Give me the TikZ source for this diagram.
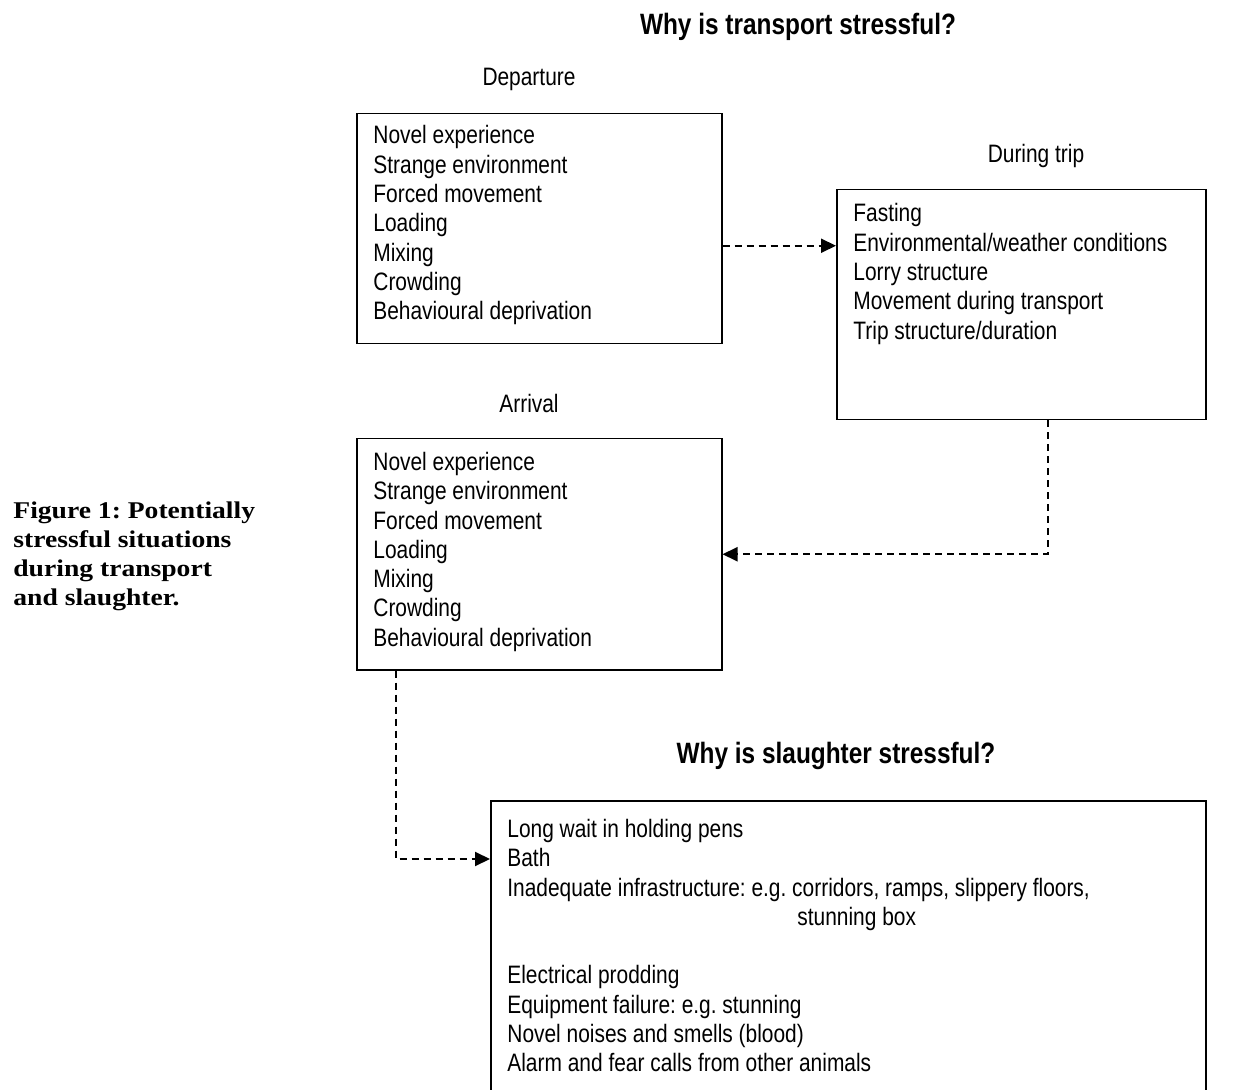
\documentclass[tikz,border=0pt]{standalone}
\usepackage{fontspec}
\setmainfont[FakeStretch=0.83]{Liberation Sans}
\newfontfamily\capfont[FakeStretch=1.15]{Liberation Serif}
\usetikzlibrary{arrows.meta}
\frenchspacing

\tikzset{
  box/.style={draw, line width=0.75pt, rectangle, inner sep=0pt, anchor=north west},
  items/.style={inner sep=0pt, anchor=north west, align=left,
    font=\fontsize{12.6}{14.65}\selectfont},
  head/.style={inner sep=0pt, anchor=base, font=\fontsize{14.7}{17}\selectfont\bfseries},
  stage/.style={inner sep=0pt, anchor=base, font=\fontsize{12.6}{14.65}\selectfont},
  flow/.style={line width=1pt, dash pattern=on 3.5pt off 2.5pt,
    -{Triangle[length=7.5pt,width=7pt]}}
}

\begin{document}
\begin{tikzpicture}[x=0.5pt, y=-0.5pt]
  \useasboundingbox (0,0) rectangle (1242,1090);

  % titles
  \node[head] (ttrans) at (798,35) {Why is transport stressful?};
  \node[head] (tslau) at (836,763) {Why is slaughter stressful?};

  % caption
  \node[inner sep=0pt, anchor=north west, align=left,
    font=\capfont\bfseries\fontsize{12}{14.5}\selectfont] (cap) at (13,497.7)
    {\strut Figure 1: Potentially\\stressful situations\\during transport\\and slaughter.};

  % departure
  \node[stage] (ldep) at (529,86) {Departure};
  \node[box, minimum width=182.5pt, minimum height=115pt] (dep) at (356,113) {};
  \node[items] (deptxt) at ([shift={(17,10)}]dep.north west)
    {\strut Novel experience\\Strange environment\\Forced movement\\Loading\\Mixing\\Crowding\\Behavioural deprivation};

  % during trip
  \node[stage] (ltrip) at (1036,163) {During trip};
  \node[box, minimum width=184.5pt, minimum height=115pt] (trip) at (836,189) {};
  \node[items] (triptxt) at ([shift={(17,12)}]trip.north west)
    {\strut Fasting\\Environmental/weather conditions\\Lorry structure\\Movement during transport\\Trip structure/duration};

  % arrival
  \node[stage] (larr) at (529,413) {Arrival};
  \node[box, minimum width=182.5pt, minimum height=115.5pt] (arr) at (356,438) {};
  \node[items] (arrtxt) at ([shift={(17,11.5)}]arr.north west)
    {\strut Novel experience\\Strange environment\\Forced movement\\Loading\\Mixing\\Crowding\\Behavioural deprivation};

  % slaughter
  \node[box, minimum width=357.5pt, minimum height=150pt] (sla) at (490,800) {};
  \node[items] (slatxt) at ([shift={(17,16.5)}]sla.north west)
    {\strut Long wait in holding pens\\Bath\\Inadequate infrastructure: e.g. corridors, ramps, slippery floors,\\
     \hspace*{145pt}stunning box\\[14.65pt]Electrical prodding\\Equipment failure: e.g. stunning\\
     Novel noises and smells (blood)\\Alarm and fear calls from other animals};

  % connectors
  \draw[flow] ([yshift=-8.5pt]dep.east) -- ([yshift=-8.5pt]dep.east -| trip.west);
  \draw[flow] ([xshift=13.25pt]trip.south) |- (arr.east);
  \draw[flow] ([xshift=20pt]arr.south west) |- ([yshift=-29.5pt]sla.north west);
\end{tikzpicture}
\end{document}
